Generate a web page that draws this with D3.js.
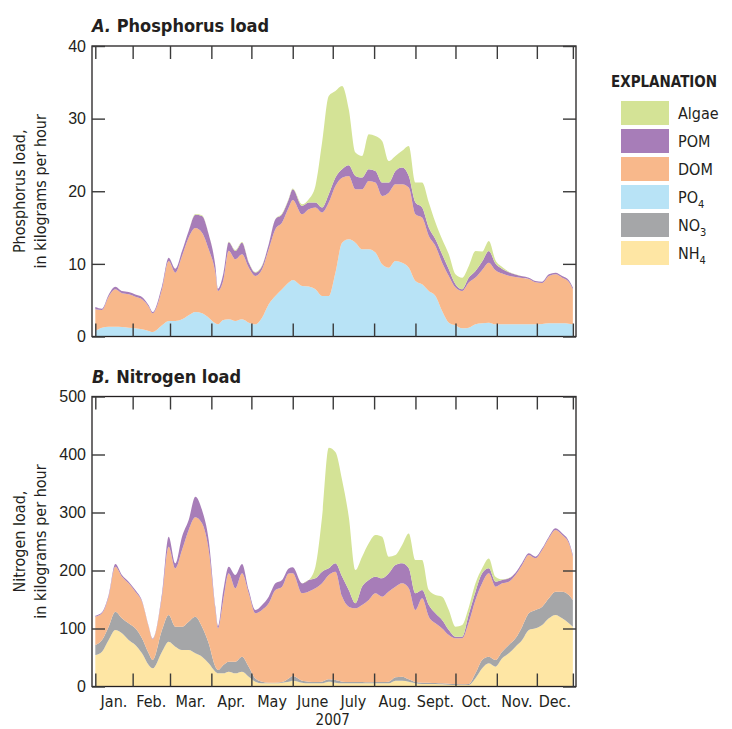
<!DOCTYPE html>
<html>
<head>
<meta charset="utf-8">
<title>Phosphorus and nitrogen load, 2007</title>
<script src="https://d3js.org/d3.v7.min.js"></script>
<style>
  body { margin: 0; background: #fff; }
  svg { font-family: "Liberation Sans Narrow", "Arial Narrow", "DejaVu Sans Condensed", sans-serif; }
</style>
</head>
<body>
<div id="chart"></div>
<script>
// sample days (days after Jan 1, 2007)
var dayOfYear = [3, 8, 13, 18, 23, 28, 33, 38, 43, 46, 53, 58, 63, 68, 73, 78, 83, 88, 93, 95,
  99, 103, 108, 113, 118, 123, 128, 133, 138, 143, 148, 151, 158, 163, 168, 173, 178, 183, 188, 193,
  198, 203, 208, 213, 218, 223, 228, 233, 238, 243, 248, 253, 258, 263, 268, 273, 278, 283, 288, 293,
  298, 303, 308, 313, 318, 323, 328, 333, 338, 343, 348, 353, 358, 361];

// A. Phosphorus load, kg/h
var pPO4 = [0.76, 1.22, 1.35, 1.35, 1.31, 1.22, 1.12, 0.99, 0.76, 0.62, 1.54, 2.13, 2.13, 2.36, 2.92, 3.37, 3.19, 2.59, 1.81, 1.68,
  2.27, 2.36, 2.13, 2.36, 1.91, 1.68, 2.59, 4.43, 5.58, 6.50, 7.42, 7.79, 6.96, 6.87, 6.50, 5.58, 5.58, 8.79, 12.92, 13.38,
  12.92, 12.01, 12.01, 11.55, 9.94, 9.48, 10.40, 10.17, 9.48, 7.65, 7.19, 6.27, 5.58, 3.51, 1.91, 1.54, 1.12, 1.22, 1.68, 1.81,
  1.91, 1.68, 1.68, 1.68, 1.68, 1.68, 1.68, 1.68, 1.72, 1.81, 1.81, 1.81, 1.77, 1.68];
var pDOM = [2.98, 2.43, 4.13, 5.14, 4.64, 4.59, 4.36, 4.13, 3.35, 2.57, 4.96, 8.26, 6.66, 8.72, 10.70, 11.57, 11.11, 9.41, 6.98, 4.59,
  5.51, 9.46, 8.49, 8.95, 7.58, 6.66, 6.66, 7.58, 9.18, 9.18, 10.33, 11.02, 9.87, 10.65, 11.25, 11.48, 12.86, 11.94, 8.95, 8.72,
  7.35, 8.26, 9.41, 9.64, 9.41, 10.33, 10.56, 10.79, 11.02, 9.18, 9.18, 7.58, 6.89, 6.66, 6.43, 5.19, 5.14, 6.20, 6.43, 7.35,
  8.26, 7.44, 6.98, 6.70, 6.52, 6.38, 6.24, 5.79, 5.65, 6.52, 6.75, 6.29, 5.74, 4.82];
var pPOM = [0.32, 0.18, 0.28, 0.37, 0.32, 0.32, 0.32, 0.32, 0.18, 0.18, 0.46, 0.46, 0.55, 0.69, 0.92, 1.84, 2.30, 2.07, 0.92, 0.32,
  0.92, 1.15, 1.15, 1.61, 0.69, 0.46, 0.46, 0.69, 1.38, 1.15, 1.15, 1.47, 1.15, 0.92, 0.69, 0.69, 1.15, 1.15, 1.15, 1.47,
  1.84, 1.61, 1.61, 1.61, 1.84, 1.38, 1.84, 2.30, 1.61, 1.61, 1.38, 1.15, 0.92, 1.15, 0.92, 0.46, 0.23, 0.69, 0.92, 1.15,
  1.61, 0.92, 0.64, 0.46, 0.32, 0.23, 0.18, 0.18, 0.18, 0.23, 0.23, 0.23, 0.23, 0.23];
var pAlgae = [0, 0, 0, 0, 0, 0, 0, 0, 0, 0, 0, 0, 0, 0, 0, 0.09, 0.09, 0, 0, 0,
  0, 0.09, 0.14, 0.09, 0.09, 0.09, 0.09, 0, 0, 0.09, 0.09, 0.09, 0.23, 0.46, 2.30, 8.95, 13.54, 11.94, 11.48, 7.71,
  3.21, 2.98, 4.82, 4.82, 5.74, 2.98, 2.07, 2.30, 4.13, 2.75, 3.44, 3.44, 2.30, 2.07, 2.07, 1.38, 1.61, 1.61, 2.75, 1.38,
  1.38, 0.46, 0.28, 0.09, 0.05, 0, 0, 0, 0, 0, 0, 0, 0, 0];

// B. Nitrogen load, kg/h
var nNH4 = [54.3, 60.1, 80.2, 97.4, 91.7, 80.2, 71.6, 57.2, 37.1, 31.3, 60.1, 77.3, 68.7, 62.9, 62.9, 57.2, 51.4, 39.9, 25.6, 22.7,
  22.7, 25.6, 22.7, 25.6, 17.0, 8.3, 5.5, 5.5, 5.5, 6.6, 8.3, 10.1, 6.6, 5.5, 5.5, 5.5, 8.3, 6.6, 5.5, 5.5,
  5.5, 5.5, 5.5, 5.5, 5.5, 5.5, 10.1, 10.1, 8.3, 5.5, 4.3, 4.3, 4.3, 3.7, 3.2, 2.6, 2.6, 2.6, 14.1, 31.3,
  39.9, 34.2, 48.6, 57.2, 68.7, 80.2, 97.4, 100.3, 106.0, 117.5, 123.3, 117.5, 108.9, 103.2];
var nNO3 = [17.2, 20.1, 23.0, 31.6, 25.9, 28.7, 28.7, 25.9, 20.1, 14.4, 37.4, 46.0, 34.5, 40.2, 48.9, 63.2, 51.7, 34.5, 8.6, 5.7,
  14.4, 17.2, 20.1, 25.9, 17.2, 5.7, 2.9, 1.1, 1.1, 1.1, 5.7, 8.0, 3.4, 2.9, 2.3, 2.9, 4.0, 4.6, 2.9, 2.3,
  2.3, 2.3, 1.7, 2.3, 2.3, 2.9, 5.7, 6.9, 4.0, 2.3, 2.3, 2.3, 1.7, 1.7, 1.7, 1.7, 1.1, 1.7, 8.6, 14.4,
  11.5, 11.5, 11.5, 14.4, 14.4, 23.0, 28.7, 31.6, 31.6, 34.5, 40.2, 46.0, 48.9, 46.0];
var nDOM = [48.9, 46.0, 51.7, 77.6, 71.8, 69.0, 63.2, 63.2, 46.0, 35.6, 57.5, 117.8, 100.6, 132.2, 158.0, 171.3, 178.2, 160.9, 97.7, 71.8,
  112.1, 152.3, 126.4, 143.7, 126.4, 112.1, 123.6, 136.8, 159.8, 164.4, 181.0, 177.0, 150.6, 155.2, 161.5, 169.5, 179.9, 186.8, 146.6, 129.9,
  127.0, 132.8, 142.0, 152.9, 147.1, 155.2, 156.3, 160.9, 156.9, 124.1, 145.4, 113.8, 102.9, 94.8, 83.9, 78.7, 79.3, 106.3, 126.4, 132.2,
  143.7, 126.4, 117.8, 109.2, 109.2, 106.3, 100.6, 89.1, 97.7, 103.4, 106.3, 97.7, 89.1, 74.7];
var nPOM = [1.7, 1.7, 2.9, 4.6, 2.9, 2.9, 2.9, 1.7, 1.1, 1.1, 5.7, 17.2, 8.6, 23.0, 17.2, 35.6, 23.0, 17.2, 5.7, 4.0,
  17.2, 11.5, 23.0, 16.1, 5.7, 5.7, 8.6, 11.5, 11.5, 11.5, 8.6, 10.3, 17.2, 20.1, 17.2, 20.1, 11.5, 14.4, 34.5, 28.7,
  8.6, 31.6, 34.5, 28.7, 31.6, 31.6, 37.4, 34.5, 34.5, 28.7, 14.4, 20.1, 17.2, 14.4, 8.6, 2.9, 2.9, 14.4, 14.4, 17.2,
  8.6, 8.6, 5.7, 5.7, 4.0, 4.0, 2.9, 2.9, 2.9, 2.9, 2.9, 2.9, 2.9, 2.9];
var nAlgae = [0, 0, 0, 0, 0, 0, 0, 0, 0, 0, 0, 0, 0, 0, 0, 0, 0, 0, 0, 0,
  0, 0, 0, 0, 0, 0, 0, 0, 0, 0, 0, 0, 0, 0, 20.1, 94.8, 208.0, 192.0, 166.7, 126.4,
  57.5, 51.7, 63.2, 71.8, 71.8, 28.7, 17.2, 31.6, 60.3, 57.5, 51.7, 25.9, 31.6, 40.2, 34.5, 17.2, 20.1, 11.5, 14.4, 8.6,
  17.2, 8.6, 1.1, 0.6, 0, 0, 0, 0, 0, 0, 0, 0, 0, 0];

var pTicks = [0, 10, 20, 30, 40];
var nTicks = [0, 100, 200, 300, 400, 500];
var monthLabels = ["Jan.", "Feb.", "Mar.", "Apr.", "May", "June", "July", "Aug.", "Sept.", "Oct.", "Nov.", "Dec."];
var legendKeys = ["Algae", "POM", "DOM", "PO4", "NO3", "NH4"];

var colors = {
  Algae: "#d4e396", POM: "#a77db8", DOM: "#f8b88b",
  PO4: "#b8e3f6", NO3: "#a5a6a8", NH4: "#fee6a4"
};

var width = 732, height = 729;
var left = 92, right = 576;

var svg = d3.select("#chart").append("svg")
  .attr("width", width)
  .attr("height", height);

function toDate(d) { return new Date(2007, 0, 1 + d); }

var x = d3.scaleTime()
  .domain([new Date(2007, 0, 1), new Date(2008, 0, 1)])
  .range([91.3, 578.2]);

// tick marks: start of record, each month, end of record
var tickDates = [toDate(dayOfYear[0])]
  .concat(d3.range(1, 12).map(function(m) { return new Date(2007, m, 1); }))
  .concat([toDate(dayOfYear[dayOfYear.length - 1])]);

function panel(keys, values, y, ticks, title) {
  var rows = dayOfYear.map(function(d, i) {
    var r = { date: toDate(d) };
    keys.forEach(function(k, j) { r[k] = values[j][i]; });
    return r;
  });

  var series = d3.stack().keys(keys)(rows);

  var area = d3.area()
    .curve(d3.curveMonotoneX)
    .x(function(d) { return x(d.data.date); })
    .y0(function(d) { return y(d[0]); })
    .y1(function(d) { return y(d[1]); });

  var g = svg.append("g");

  g.selectAll(".layer")
    .data(series)
    .enter()
    .append("path")
    .attr("class", "layer")
    .attr("d", area)
    .style("fill", function(d) { return colors[d.key]; });

  var top = y.range()[1], bottom = y.range()[0];

  // frame
  g.append("rect")
    .attr("x", left).attr("y", top)
    .attr("width", right - left).attr("height", bottom - top)
    .style("fill", "none")
    .style("stroke", "#231f20")
    .style("stroke-width", 1.3);

  var yl = g.append("g")
    .attr("transform", "translate(" + left + ",0)")
    .call(d3.axisLeft(y).tickValues(ticks).tickSize(-13).tickPadding(6).tickFormat(d3.format("d")));
  var yr = g.append("g")
    .attr("transform", "translate(" + right + ",0)")
    .call(d3.axisRight(y).tickValues(ticks).tickSize(-13).tickFormat(""));
  var xt = g.append("g")
    .attr("transform", "translate(0," + top + ")")
    .call(d3.axisTop(x).tickValues(tickDates).tickSize(-13).tickFormat(""));
  var xb = g.append("g")
    .attr("transform", "translate(0," + bottom + ")")
    .call(d3.axisBottom(x).tickValues(tickDates).tickSize(-13).tickFormat(""));

  [yl, yr, xt, xb].forEach(function(a) {
    a.select(".domain").remove();
    a.selectAll(".tick line").style("stroke", "#3a3a3a").style("stroke-width", 1.4);
  });
  yl.selectAll(".tick text")
    .style("font-size", "16px")
    .style("fill", "#231f20");

  var t = svg.append("text")
    .attr("x", left)
    .attr("y", top - 14)
    .style("font-size", "18px")
    .style("font-weight", "bold")
    .style("fill", "#231f20");
  t.append("tspan").style("font-style", "italic").text(title[0]);
  t.append("tspan").text("\u00a0" + title[1]);

  var mid = (top + bottom) / 2;
  var yt = svg.append("text")
    .attr("transform", "translate(25," + mid + ") rotate(-90)")
    .attr("text-anchor", "middle")
    .style("font-size", "16px")
    .style("fill", "#231f20");
  yt.append("tspan").attr("x", 0).attr("dy", 0).text(title[2]);
  yt.append("tspan").attr("x", 0).attr("dy", 21).text("in kilograms per hour");
}

var yP = d3.scaleLinear().domain([0, 40]).range([336.5, 46]);
var yN = d3.scaleLinear().domain([0, 500]).range([686.5, 396.5]);

panel(["PO4", "DOM", "POM", "Algae"], [pPO4, pDOM, pPOM, pAlgae], yP, pTicks,
  ["A.", "Phosphorus load", "Phosphorus load,"]);
panel(["NH4", "NO3", "DOM", "POM", "Algae"], [nNH4, nNO3, nDOM, nPOM, nAlgae], yN, nTicks,
  ["B.", "Nitrogen load", "Nitrogen load,"]);

// month labels, centred between tick marks
svg.append("g").selectAll("text")
  .data(monthLabels)
  .enter()
  .append("text")
  .attr("x", function(d, i) { return (x(tickDates[i]) + x(tickDates[i + 1])) / 2; })
  .attr("y", 707)
  .attr("text-anchor", "middle")
  .style("font-size", "16px")
  .style("fill", "#231f20")
  .text(function(d) { return d; });

svg.append("text")
  .attr("x", x(new Date(2007, 6, 1)))
  .attr("y", 725)
  .attr("text-anchor", "middle")
  .style("font-size", "15px")
  .style("fill", "#231f20")
  .text("2007");

// explanation
svg.append("text")
  .attr("x", 611)
  .attr("y", 87)
  .style("font-size", "15px")
  .style("font-weight", "bold")
  .style("fill", "#231f20")
  .text("EXPLANATION");

var item = svg.append("g").selectAll("g")
  .data(legendKeys)
  .enter()
  .append("g")
  .attr("transform", function(d, i) { return "translate(621," + (101 + i * 28) + ")"; });

item.append("rect")
  .attr("width", 48)
  .attr("height", 24)
  .style("fill", function(d) { return colors[d]; });

var label = item.append("text")
  .attr("x", 57)
  .attr("y", 12)
  .attr("dy", "0.36em")
  .style("font-size", "16px")
  .style("fill", "#231f20");

label.append("tspan").text(function(d) { return d.replace(/\d$/, ""); });
label.filter(function(d) { return /\d$/.test(d); })
  .append("tspan")
  .attr("dy", 5)
  .style("font-size", "11px")
  .text(function(d) { return d.slice(-1); });
</script>
</body>
</html>
